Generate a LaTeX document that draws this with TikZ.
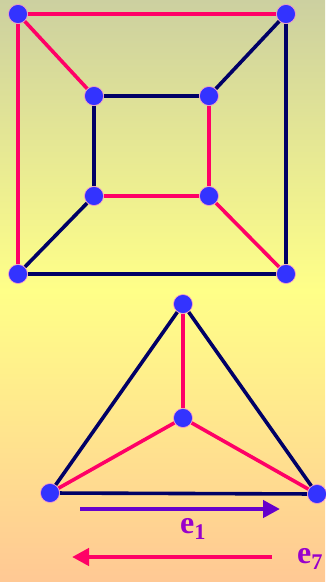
\documentclass[tikz,border=0pt]{standalone}
\usepackage{fontspec}
\setmainfont{Liberation Serif}
\usetikzlibrary{arrows.meta,positioning,backgrounds}
\definecolor{edgered}{HTML}{FF0066}
\definecolor{edgenavy}{HTML}{000066}
\definecolor{vertexblue}{HTML}{3333FF}
\definecolor{vertexrim}{HTML}{FF99CC}
\definecolor{arrowviolet}{HTML}{6600CC}
\definecolor{labelviolet}{HTML}{9900CC}
\definecolor{bgtop}{HTML}{CCD0A0}
\definecolor{bgmid}{HTML}{FFFF88}
\definecolor{bgbot}{HTML}{FFC894}

\begin{document}
\begin{tikzpicture}[x=1pt, y=-1pt,
    vertex/.style={circle, fill=vertexblue, draw=vertexrim, line width=0.6pt,
                   minimum size=19pt, inner sep=0pt},
    redge/.style={draw=edgered, line width=3.6pt},
    nedge/.style={draw=edgenavy, line width=3.6pt},
    flow/.style={line width=4.5pt, -{Triangle[length=17pt, width=17pt]}},
    elabel/.style={text=labelviolet, font=\fontsize{32}{34}\selectfont\bfseries}]
  \useasboundingbox (0,0) rectangle (325,582);

  % cube graph
  \node[vertex] (otl) at (18,14) {};
  \node[vertex] (otr) at (286,14) {};
  \node[vertex] (obl) at (18,274) {};
  \node[vertex] (obr) at (286,274) {};
  \node[vertex] (itl) at (94,96) {};
  \node[vertex] (itr) at (209,96) {};
  \node[vertex] (ibl) at (94,196) {};
  \node[vertex] (ibr) at (209,196) {};

  % tetrahedron graph
  \node[vertex] (apex) at (183,304) {};
  \node[vertex] (mid) at (183,418) {};
  \node[vertex] (left) at (50,493) {};
  \node[vertex] (right) at (317,494) {};

  \begin{pgfonlayer}{background}
    \shade[top color=bgtop, bottom color=bgbot, middle color=bgmid]
      (0,0) rectangle (325,582);
    \path[redge] (otl) -- (otr);
    \path[redge] (otl) -- (obl);
    \path[redge] (otl) -- (itl);
    \path[nedge] (otr) -- (itr);
    \path[nedge] (otr) -- (obr);
    \path[nedge] (obl) -- (obr);
    \path[nedge] (obl) -- (ibl);
    \path[redge] (obr) -- (ibr);
    \path[nedge] (itl) -- (itr);
    \path[nedge] (itl) -- (ibl);
    \path[redge] (itr) -- (ibr);
    \path[redge] (ibl) -- (ibr);
    \path[nedge] (apex) -- (left);
    \path[nedge] (apex) -- (right);
    \path[nedge] (left) -- (right);
    \path[redge] (apex) -- (mid);
    \path[redge] (mid) -- (left);
    \path[redge] (mid) -- (right);
  \end{pgfonlayer}

  % directions of the edge
  \coordinate (fwdstart) at (80,509);
  \coordinate (fwdend) at (280,509);
  \coordinate (backstart) at (272,557);
  \coordinate (backend) at (72,557);
  \draw[flow, arrowviolet] (fwdstart) -- (fwdend);
  \draw[flow, edgered] (backstart) -- (backend);
  \node[elabel] (eone) at (193,529) {e\textsubscript{1}};
  \node[elabel] (eseven) at (310,559) {e\textsubscript{7}};
\end{tikzpicture}
\end{document}
